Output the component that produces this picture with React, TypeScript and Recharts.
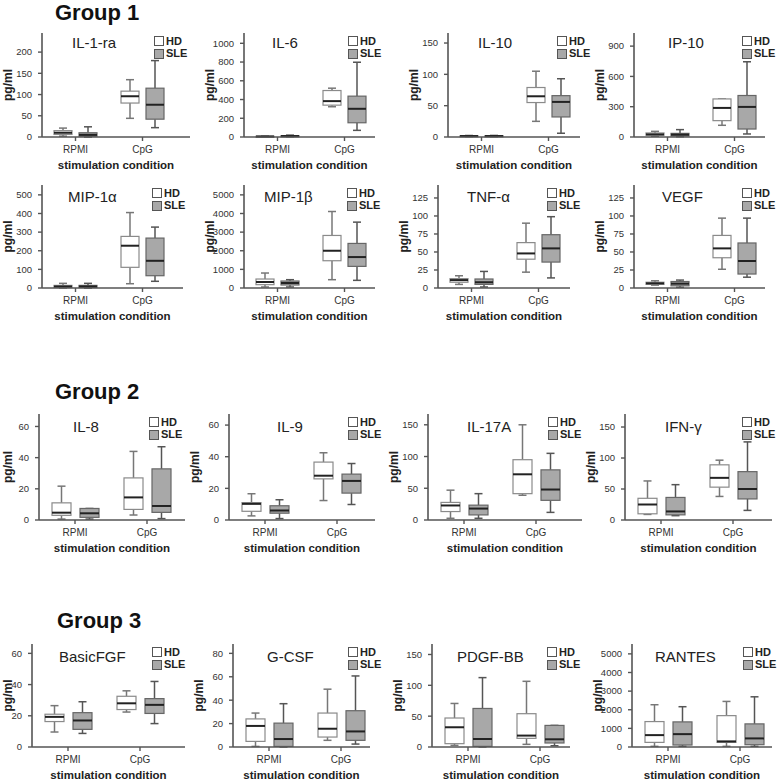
import React from 'react';
import { BarChart, Bar, XAxis, YAxis, Legend } from 'recharts';

const FONT = '"Liberation Sans", Arial, sans-serif';

const CATEGORIES = ['RPMI', 'CpG'];

// each entry: [min, q1, median, q3, max] for RPMI, then CpG
const IL1RA_HD = [[2, 6, 10, 15, 21], [44, 80, 96, 108, 135]];
const IL1RA_SLE = [[0, 2, 5, 10, 24], [22, 42, 76, 115, 180]];
const IL6_HD = [[2, 4, 6, 8, 10], [323, 340, 383, 496, 521]];
const IL6_SLE = [[3, 6, 10, 13, 20], [71, 152, 301, 436, 798]];
const IL10_HD = [[0.5, 1, 1.5, 2, 2.5], [25, 55, 65, 79, 105]];
const IL10_SLE = [[0.5, 1, 1.5, 2, 2.5], [6, 32, 56, 66, 93]];
const IP10_HD = [[7, 17, 26, 40, 56], [116, 162, 288, 377, 377]];
const IP10_SLE = [[3, 10, 23, 36, 73], [30, 79, 298, 411, 745]];
const MIP1A_HD = [[0, 3, 8, 14, 25], [23, 111, 227, 277, 405]];
const MIP1A_SLE = [[0, 3, 8, 14, 25], [36, 66, 146, 268, 327]];
const MIP1B_HD = [[54, 179, 321, 482, 804], [446, 1464, 2000, 2821, 4107]];
const MIP1B_SLE = [[54, 161, 268, 375, 446], [411, 1161, 1661, 2393, 3536]];
const TNFA_HD = [[5, 8, 11, 13, 17], [22, 40, 48, 63, 90]];
const TNFA_SLE = [[1.4, 5, 8, 12.5, 23], [14, 36, 55, 74, 99]];
const VEGF_HD = [[4, 5, 6.5, 8, 10], [26, 42, 55, 73, 97]];
const VEGF_SLE = [[1, 3, 6, 9, 11], [15, 19.4, 37.5, 62.5, 97]];
const IL8_HD = [[0.6, 3, 4.7, 11, 21.7], [3.2, 6.8, 14.5, 27, 44]];
const IL8_SLE = [[0.6, 1.7, 4.3, 7.4, 7.4], [0.9, 4.9, 9, 32.8, 47]];
const IL9_HD = [[2.6, 5.5, 10.2, 11, 16.6], [12.3, 26, 28, 36.6, 42.5]];
const IL9_SLE = [[0.9, 4.3, 6, 9, 12.8], [9.8, 17, 24.7, 29, 35.7]];
const IL17A_HD = [[2.7, 13.3, 22.9, 27.7, 47], [39, 41.5, 72, 95, 150]];
const IL17A_SLE = [[2.7, 8, 18, 23.4, 41.5], [12, 31, 48, 79, 105]];
const IFNG_HD = [[9, 10, 25, 35, 63], [38, 53, 68, 89, 96.5]];
const IFNG_SLE = [[7, 8.3, 13.8, 36.4, 57], [15.5, 34, 50, 78, 126]];
const BFGF_HD = [[9.6, 16.3, 19.3, 21, 26.5], [22.4, 24, 28, 32.5, 36]];
const BFGF_SLE = [[8.7, 11.3, 17, 22, 29], [15, 21.5, 27, 31, 42]];
const GCSF_HD = [[0.5, 4.8, 18, 24, 29], [5.7, 8.5, 15.6, 29, 49.4]];
const GCSF_SLE = [[0, 0.5, 6.8, 20.4, 37], [2.5, 5.7, 13.3, 31, 60.7]];
const PDGF_HD = [[2.7, 5.4, 32, 47, 70.6], [4.3, 14, 18.5, 54, 106.5]];
const PDGF_SLE = [[0, 1, 13, 62.5, 112.5], [2, 6.5, 12.5, 35, 35]];
const RANTES_HD = [[35, 248, 638, 1365, 2270], [35, 248, 301, 1684, 2447]];
const RANTES_SLE = [[35, 106, 691, 1348, 2163], [35, 124, 461, 1241, 2695]];

const T_250 = [0, 50, 100, 150, 200];
const T_1000 = [0, 200, 400, 600, 800, 1000];
const T_150 = [0, 50, 100, 150];
const T_900 = [0, 300, 600, 900];
const T_500 = [0, 100, 200, 300, 400, 500];
const T_5000 = [0, 1000, 2000, 3000, 4000, 5000];
const T_125 = [0, 25, 50, 75, 100, 125];
const T_60 = [0, 20, 40, 60];
const T_80 = [0, 20, 40, 60, 80];

const GROUPS = ['Group 1', 'Group 2', 'Group 3'];

const PANELS = [
  { title: 'IL-1-ra', hd: IL1RA_HD, sle: IL1RA_SLE, ymax: 245, ticks: T_250 },
  { title: 'IL-6', hd: IL6_HD, sle: IL6_SLE, ymax: 1110, ticks: T_1000 },
  { title: 'IL-10', hd: IL10_HD, sle: IL10_SLE, ymax: 166, ticks: T_150 },
  { title: 'IP-10', hd: IP10_HD, sle: IP10_SLE, ymax: 1030, ticks: T_900 },
  { title: 'MIP-1α', hd: MIP1A_HD, sle: MIP1A_SLE, ymax: 553, ticks: T_500 },
  { title: 'MIP-1β', hd: MIP1B_HD, sle: MIP1B_SLE, ymax: 5530, ticks: T_5000 },
  { title: 'TNF-α', hd: TNFA_HD, sle: TNFA_SLE, ymax: 143, ticks: T_125 },
  { title: 'VEGF', hd: VEGF_HD, sle: VEGF_SLE, ymax: 143, ticks: T_125 },
  { title: 'IL-8', hd: IL8_HD, sle: IL8_SLE, ymax: 68, ticks: T_60 },
  { title: 'IL-9', hd: IL9_HD, sle: IL9_SLE, ymax: 67, ticks: T_60 },
  { title: 'IL-17A', hd: IL17A_HD, sle: IL17A_SLE, ymax: 167, ticks: T_150 },
  { title: 'IFN-γ', hd: IFNG_HD, sle: IFNG_SLE, ymax: 171, ticks: T_150 },
  { title: 'BasicFGF', hd: BFGF_HD, sle: BFGF_SLE, ymax: 66, ticks: T_60 },
  { title: 'G-CSF', hd: GCSF_HD, sle: GCSF_SLE, ymax: 88, ticks: T_80 },
  { title: 'PDGF-BB', hd: PDGF_HD, sle: PDGF_SLE, ymax: 167, ticks: T_150 },
  { title: 'RANTES', hd: RANTES_HD, sle: RANTES_SLE, ymax: 5530, ticks: T_5000 },
];

// layout, one row of four panels each
const ROW_TOP = [33, 185, 414, 644];
const ROW_ZERO = [137, 288, 520, 747];
const ROW_BAND = [67, 67, 72, 72];
const AXIS_X = [[42, 244, 448, 634], [42, 244, 438, 634], [39, 229, 428, 625], [32, 233, 432, 632]];
const AXIS_W = [[148, 131, 132, 131], [141, 131, 132, 131], [146, 146, 154, 147], [153, 137, 138, 140]];
const TITLE_DX = [[30, 28, 30, 34], [26, 20, 29, 28], [34, 48, 39, 40], [27, 34, 25, 23]];
const TITLE_DY = [15, 17, 18, 18];
const LEGEND_DX = [[112, 104, 109, 108], [110, 103, 109, 108], [110, 119, 120, 117], [120, 115, 115, 111]];
const HEADINGS = [[55, 20], [55, 399], [57, 628]];

const MT = 8;
const YW = 44;
const XH = 40;
const MR = 64;

const makeBox = (key: string, fill: string, stroke: string, whisker: string) => (props: any) => {
  const { x, y, width, height, payload } = props;
  const [mn, q1, md, q3, mx] = payload[key];
  const py = (v: number) => y + (height * (mx - v)) / (mx - mn || 1);
  const cx = x + width / 2;
  const cap = 4;
  return (
    <g>
      <line x1={cx} x2={cx} y1={py(mx)} y2={py(q3)} stroke={whisker} strokeWidth={1.5} />
      <line x1={cx} x2={cx} y1={py(q1)} y2={py(mn)} stroke={whisker} strokeWidth={1.5} />
      <line x1={cx - cap} x2={cx + cap} y1={py(mx)} y2={py(mx)} stroke={whisker} strokeWidth={1.5} />
      <line x1={cx - cap} x2={cx + cap} y1={py(mn)} y2={py(mn)} stroke={whisker} strokeWidth={1.5} />
      <rect x={x} y={py(q3)} width={width} height={Math.max(py(q1) - py(q3), 1)} fill={fill} stroke={stroke} strokeWidth={1.2} />
      <line x1={x} x2={x + width} y1={py(md)} y2={py(md)} stroke="#222" strokeWidth={2} />
    </g>
  );
};

const hdShape = makeBox('hd', '#ffffff', '#8a8a8a', '#777');
const sleShape = makeBox('sle', '#a8a8a8', '#666', '#555');

const renderLegend = (props: any) => (
  <div style={{ fontFamily: FONT }}>
    {(props.payload || []).map((e: any) => (
      <div key={e.value} style={{ display: 'flex', alignItems: 'center', height: 12.5 }}>
        <span
          style={{
            display: 'inline-block',
            width: 8,
            height: 8,
            background: e.value === 'HD' ? '#fff' : '#a8a8a8',
            border: '1px solid #555',
            marginRight: 2,
            flex: 'none',
          }}
        />
        <span style={{ fontSize: 11, fontWeight: 'bold', color: '#222', lineHeight: '11px' }}>{e.value}</span>
      </div>
    ))}
  </div>
);

const Panel = ({ index }: { index: number }) => {
  const p = PANELS[index];
  const r = Math.floor(index / 4);
  const c = index % 4;
  const top = ROW_TOP[r];
  const plotH = ROW_ZERO[r] - top;
  const axisX = AXIS_X[r][c];
  const axisW = AXIS_W[r][c];
  const band = ROW_BAND[r];
  const wide = r >= 2;
  // centre of the rotated unit label, kept inside the page
  const labelCentre = Math.max(axisX - 34, 8) - (axisX - YW);

  const rows = CATEGORIES.map((cat, i) => ({
    cat,
    hd: p.hd[i],
    sle: p.sle[i],
    hdRange: [p.hd[i][0], p.hd[i][4]],
    sleRange: [p.sle[i][0], p.sle[i][4]],
  }));

  return (
    <div style={{ position: 'absolute', left: axisX - YW, top: top - MT }}>
      <BarChart
        width={YW + axisW + MR}
        height={MT + plotH + XH}
        data={rows}
        margin={{ top: MT, right: MR, left: 0, bottom: 0 }}
        barSize={wide ? 19 : 18}
        barGap={wide ? 9 : 7}
      >
        <XAxis
          dataKey="cat"
          height={XH}
          padding={{ left: 0, right: axisW - 2 * band }}
          axisLine={{ stroke: '#555', strokeWidth: 1.6 }}
          tickLine={{ stroke: '#555', strokeWidth: 1.4 }}
          tickSize={4}
          tickMargin={5}
          tick={{ fontSize: 10, fill: '#333', fontFamily: FONT }}
          label={{
            value: 'stimulation condition',
            position: 'insideBottom',
            offset: XH - 32,
            style: { fontSize: 11.5, fontWeight: 'bold', fill: '#222', fontFamily: FONT },
          }}
        />
        <YAxis
          type="number"
          domain={[0, p.ymax]}
          ticks={p.ticks}
          interval={0}
          width={YW}
          axisLine={{ stroke: '#555', strokeWidth: 1.6 }}
          tickLine={{ stroke: '#555', strokeWidth: 1.4 }}
          tickSize={4}
          tickMargin={6}
          tick={{ fontSize: 9.5, fill: '#333', fontFamily: FONT }}
          label={{
            value: 'pg/ml',
            angle: -90,
            position: 'insideLeft',
            offset: labelCentre,
            style: { textAnchor: 'middle', fontSize: 12, fontWeight: 'bold', fill: '#222', fontFamily: FONT },
          }}
        />
        <Bar dataKey="hdRange" name="HD" fill="#ffffff" shape={hdShape} isAnimationActive={false} />
        <Bar dataKey="sleRange" name="SLE" fill="#a8a8a8" shape={sleShape} isAnimationActive={false} />
        <Legend
          layout="vertical"
          align="center"
          verticalAlign="middle"
          content={renderLegend}
          wrapperStyle={{ left: YW + LEGEND_DX[r][c], top: MT + 2, width: 36, height: 25 }}
        />
      </BarChart>
    </div>
  );
};

export default function App() {
  return (
    <div style={{ position: 'absolute', left: 0, top: 0, width: 778, height: 783, background: '#fff' }}>
      {PANELS.map((_, i) => (
        <Panel key={i} index={i} />
      ))}
      <svg width={778} height={783} style={{ position: 'absolute', left: 0, top: 0, pointerEvents: 'none' }}>
        {GROUPS.map((g, i) => (
          <text key={g} x={HEADINGS[i][0]} y={HEADINGS[i][1]} fontSize={22} fontWeight="bold" fill="#111" fontFamily={FONT}>
            {g}
          </text>
        ))}
        {PANELS.map((p, i) => {
          const r = Math.floor(i / 4);
          const c = i % 4;
          return (
            <text key={p.title} x={AXIS_X[r][c] + TITLE_DX[r][c]} y={ROW_TOP[r] + TITLE_DY[r]} fontSize={15} fill="#222" fontFamily={FONT}>
              {p.title}
            </text>
          );
        })}
      </svg>
    </div>
  );
}
